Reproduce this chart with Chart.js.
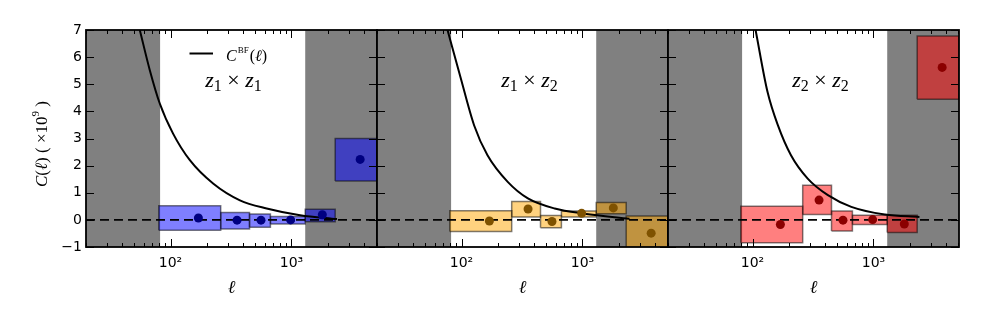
<!DOCTYPE html>
<html><head><meta charset="utf-8">
<script src="https://cdn.jsdelivr.net/npm/chart.js@4.4.0/dist/chart.umd.min.js"></script>
<style>
html,body{margin:0;padding:0;background:#fff;}
#wrap{position:relative;width:981px;height:327px;}
canvas{position:absolute;left:0;top:0;}
</style></head><body>
<div id="wrap">
<canvas id="c0" width="981" height="327"></canvas>
<canvas id="c1" width="981" height="327"></canvas>
<canvas id="c2" width="981" height="327"></canvas>
</div>
<script>
// ---------- data ----------
const panelLabels = ['z₁ × z₁', 'z₁ × z₂', 'z₂ × z₂'];
const curveLabel = 'C^BF(ℓ)';
const yTitle = 'C(ℓ) ( ×10⁹ )';
const xTitle = 'ℓ';
const yTicks = [-1, 0, 1, 2, 3, 4, 5, 6, 7];
const xMajorTicks = [100, 1000];
const xTickLabels = ['10²', '10³'];
const xMinorTicks = [20, 30, 40, 50, 60, 70, 80, 90, 200, 300, 400, 500, 600, 700, 800, 900, 2000, 3000, 4000, 5000];
const maskedRanges = [[10, 82], [1300, 10000]];
const binEdges = [80, 260, 450, 670, 1300, 2300, 5100];
const binCenters = [170, 355, 560, 985, 1800, 3700];

// z1 x z1
const points11 = [0.07, -0.01, -0.01, 0.00, 0.19, 2.23];
const lower11  = [-0.38, -0.34, -0.27, -0.15, -0.07, 1.43];
const upper11  = [0.52, 0.27, 0.22, 0.12, 0.39, 3.00];
// z1 x z2
const points12 = [-0.04, 0.40, -0.06, 0.24, 0.44, -0.49];
const lower12  = [-0.43, 0.11, -0.29, 0.11, 0.23, -1.20];
const upper12  = [0.34, 0.68, 0.16, 0.33, 0.64, 0.14];
// z2 x z2
const points22 = [-0.17, 0.73, -0.01, 0.01, -0.15, 5.62];
const lower22  = [-0.84, 0.20, -0.41, -0.17, -0.47, 4.45];
const upper22  = [0.50, 1.28, 0.33, 0.17, 0.17, 6.78];

// best-fit curves C^BF(l)
const curveL11 = [55.7, 67.4, 81.5, 105, 144.5, 225, 375, 624, 1180, 2380];
const curveC11 = [7.0, 5.52, 4.29, 3.18, 2.20, 1.34, 0.72, 0.42, 0.17, 0.03];
const curveL12 = [76.6, 98.7, 127, 164, 241, 354, 589, 1045, 2450];
const curveC12 = [7.0, 5.21, 3.49, 2.38, 1.40, 0.79, 0.42, 0.23, 0.04];
const curveL22 = [106, 133, 162, 208, 286, 420, 656, 1242, 2400];
const curveC22 = [7.0, 4.72, 3.49, 2.38, 1.52, 0.91, 0.48, 0.20, 0.11];

const panelPoints = [points11, points12, points22];
const panelLower = [lower11, lower12, lower22];
const panelUpper = [upper11, upper12, upper22];
const panelCurveL = [curveL11, curveL12, curveL22];
const panelCurveC = [curveC11, curveC12, curveC22];

// ---------- styles ----------
const boxFill = ['rgba(0,0,255,0.5)', 'rgba(255,165,0,0.5)', 'rgba(255,0,0,0.5)'];
const pointColor = ['#000080', '#7f5200', '#8b0000'];
const panelLeft = [86, 377, 668];
const panelRight = [377, 668, 959];
const SERIF = '"Liberation Serif", "DejaVu Serif", serif';
const SANS = '"DejaVu Sans", sans-serif';

function drawMath(ctx, str, x, y, size, align, cfg) {
  cfg = Object.assign({subScale: 0.72, subDy: 0.16, supScale: 0.62, supDy: 0.42, capScale: 0.5, capDy: 0.5}, cfg || {});
  const sub = {'₀':'0','₁':'1','₂':'2','₃':'3','₄':'4','₅':'5','₆':'6','₇':'7','₈':'8','₉':'9'};
  const sup = {'⁰':'0','¹':'1','²':'2','³':'3','⁴':'4','⁵':'5','⁶':'6','⁷':'7','⁸':'8','⁹':'9'};
  const runs = [];
  let i = 0;
  while (i < str.length) {
    const ch = str[i];
    if (ch === '^') {
      let j = i + 1, s = '';
      while (j < str.length && /[A-Z]/.test(str[j])) { s += str[j]; j++; }
      runs.push({t: s, font: `${Math.round(size * cfg.capScale)}px ${SERIF}`, dy: -size * cfg.capDy, pad: 1});
      i = j; continue;
    }
    if (sub[ch]) runs.push({t: sub[ch], font: `${Math.round(size * cfg.subScale)}px ${SERIF}`, dy: size * cfg.subDy});
    else if (sup[ch]) runs.push({t: sup[ch], font: `${Math.round(size * cfg.supScale)}px ${SERIF}`, dy: -size * cfg.supDy});
    else if (/[A-Za-zℓ]/.test(ch)) runs.push({t: ch, font: `italic ${size}px ${SERIF}`, dy: 0});
    else runs.push({t: ch, font: `${size}px ${SERIF}`, dy: 0});
    i++;
  }
  let w = 0;
  runs.forEach(r => { ctx.font = r.font; r.w = ctx.measureText(r.t).width + (r.pad || 0) * 2; w += r.w; });
  let cx = align === 'center' ? x - w / 2 : x;
  ctx.textBaseline = 'alphabetic';
  ctx.textAlign = 'left';
  runs.forEach(r => { ctx.font = r.font; ctx.fillText(r.t, cx + (r.pad || 0), y + r.dy); cx += r.w; });
  return w;
}

const decor = {
  id: 'decor',
  beforeDatasetsDraw(chart) {
    const {ctx, chartArea: a, scales: {x}} = chart;
    ctx.save();
    ctx.beginPath(); ctx.rect(a.left, a.top, a.right - a.left, a.bottom - a.top); ctx.clip();
    ctx.fillStyle = '#808080';
    maskedRanges.forEach(([l0, l1]) => {
      const p0 = x.getPixelForValue(l0), p1 = x.getPixelForValue(l1);
      ctx.fillRect(p0, a.top, p1 - p0, a.bottom - a.top);
    });
    ctx.restore();
  },
  afterDraw(chart, args, opts) {
    const {ctx, chartArea: a, scales: {x, y}} = chart;
    const p = opts.panel;
    ctx.save();
    ctx.strokeStyle = '#000';
    ctx.lineWidth = 1;
    const seg = (x0, y0, x1, y1) => { ctx.beginPath(); ctx.moveTo(x0, y0); ctx.lineTo(x1, y1); ctx.stroke(); };
    xMajorTicks.forEach(v => { const px = Math.round(x.getPixelForValue(v)) + 0.5; seg(px, a.bottom, px, a.bottom - 8); seg(px, a.top, px, a.top + 8); });
    xMinorTicks.forEach(v => { const px = Math.round(x.getPixelForValue(v)) + 0.5; seg(px, a.bottom, px, a.bottom - 4); seg(px, a.top, px, a.top + 4); });
    yTicks.forEach(v => { const py = Math.round(y.getPixelForValue(v)) + 0.5; seg(a.left, py, a.left + 8, py); seg(a.right, py, a.right - 8, py); });
    ctx.lineWidth = 1.8;
    ctx.strokeRect(a.left, a.top, a.right - a.left, a.bottom - a.top);
    ctx.fillStyle = '#000';
    // panel label
    const lx = p === 0 ? a.left + 0.507 * (a.right - a.left) : a.left + 0.524 * (a.right - a.left);
    drawMath(ctx, panelLabels[p], lx, 87, 22, 'center');
    if (p === 0) {
      // legend
      ctx.lineWidth = 2;
      seg(189.5, 53.5, 213, 53.5);
      drawMath(ctx, curveLabel, 226, 60.5, 16, 'left', {capScale: 0.55, capDy: 0.5});
      // y title
      ctx.save();
      ctx.translate(46.5, 187);
      ctx.rotate(-Math.PI / 2);
      drawMath(ctx, yTitle, 0, 0, 17, 'left');
      ctx.restore();
    }
    ctx.restore();
  }
};

function makeChart(p) {
  const ds = [];
  ds.push({data: binCenters.map((c, i) => ({x: c, y: panelPoints[p][i]})), showLine: false,
    pointRadius: 4.5, pointBackgroundColor: pointColor[p], pointBorderWidth: 0, order: 0});
  ds.push({data: [{x: 20, y: 0}, {x: 5100, y: 0}], borderColor: '#000', borderWidth: 1.6,
    borderDash: [9, 5], pointRadius: 0, order: 1, fill: false});
  ds.push({label: curveLabel, data: panelCurveL[p].map((l, i) => ({x: l, y: panelCurveC[p][i]})),
    borderColor: '#000', borderWidth: 2, pointRadius: 0, cubicInterpolationMode: 'monotone', order: 2, fill: false, clip: 0});
  for (let i = 0; i < binCenters.length; i++) {
    const e0 = binEdges[i], e1 = binEdges[i + 1], lo = panelLower[p][i], hi = panelUpper[p][i];
    ds.push({data: [{x: e0, y: lo}, {x: e1, y: lo}, {x: e1, y: hi}, {x: e0, y: hi}, {x: e0, y: lo}],
      fill: 'shape', backgroundColor: boxFill[p], borderColor: 'rgba(0,0,0,0.5)', borderWidth: 1.5,
      borderJoinStyle: 'miter', pointRadius: 0, tension: 0, order: 3, clip: 0});
  }
  return new Chart(document.getElementById('c' + p), {
    type: 'line',
    data: {datasets: ds},
    plugins: [decor],
    options: {
      responsive: false, animation: false, events: [],
      layout: {padding: {left: p === 0 ? 0 : panelLeft[p], right: 981 - panelRight[p], top: 30, bottom: 0}},
      plugins: {legend: {display: false}, tooltip: {enabled: false}, decor: {panel: p}},
      scales: {
        x: {
          type: 'logarithmic', min: 20, max: 5100,
          grid: {display: false, drawTicks: false}, border: {display: false},
          afterBuildTicks: s => { s.ticks = xMajorTicks.map(v => ({value: v})); },
          afterFit: s => { s.height = 80; },
          ticks: {autoSkip: false, maxRotation: 0, minRotation: 0, padding: 8, color: '#000',
            font: {family: SANS, size: 14},
            callback: v => { const k = xMajorTicks.indexOf(v); return k >= 0 ? xTickLabels[k] : ''; }},
          title: {display: true, text: xTitle, color: '#000',
            font: {family: SERIF, size: 18, style: 'italic'}, padding: {top: 0, bottom: 28}}
        },
        y: {
          min: -1, max: 7,
          grid: {display: false, drawTicks: false}, border: {display: false},
          afterBuildTicks: s => { s.ticks = yTicks.map(v => ({value: v})); },
          afterFit: s => { s.width = p === 0 ? 86 : 0; },
          ticks: {display: p === 0, padding: 4, color: '#000', font: {family: SANS, size: 14},
            callback: v => String(v).replace('-', '−')}
        }
      }
    }
  });
}
[0, 1, 2].forEach(makeChart);
</script>
</body></html>
